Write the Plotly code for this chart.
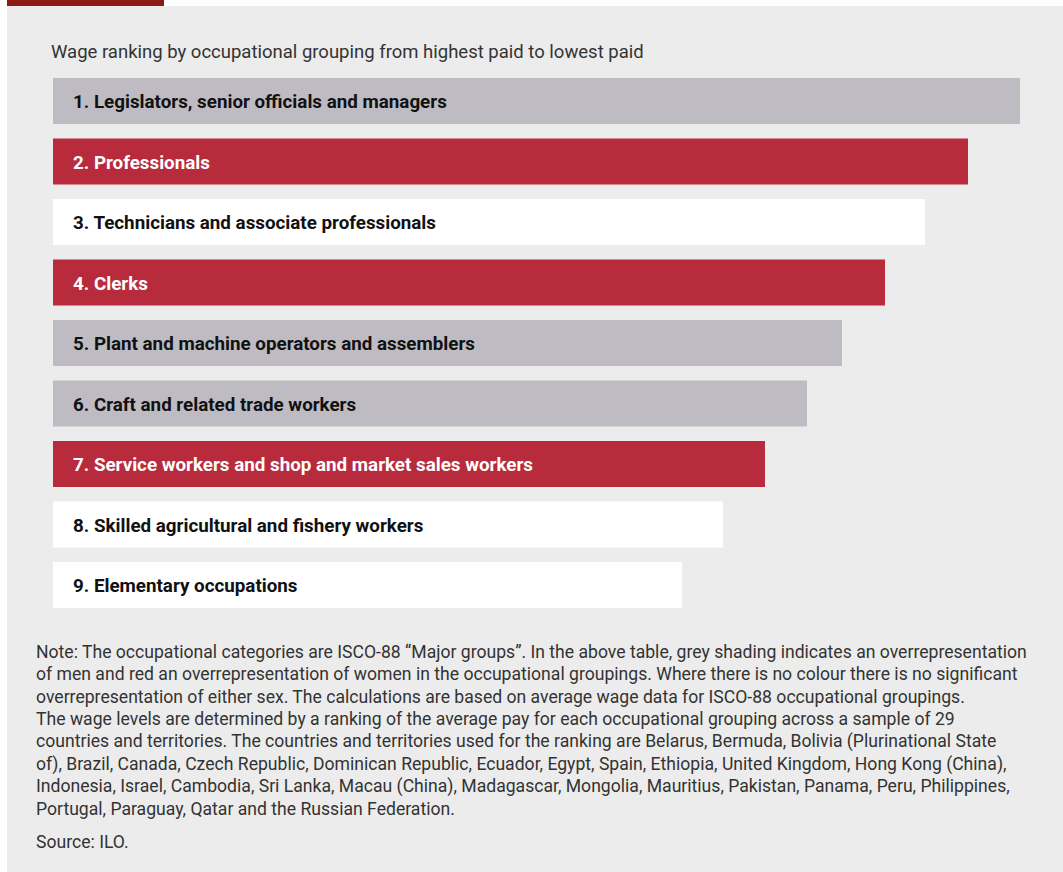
import plotly.graph_objects as go

# ---- data ----
categories = [
    "1. Legislators, senior officials and managers",
    "2. Professionals",
    "3. Technicians and associate professionals",
    "4. Clerks",
    "5. Plant and machine operators and assemblers",
    "6. Craft and related trade workers",
    "7. Service workers and shop and market sales workers",
    "8. Skilled agricultural and fishery workers",
    "9. Elementary occupations",
]
# decorative bar lengths (rank order, highest paid first)
bar_length = [967, 915, 872, 832, 789, 754, 712, 670, 629]
# overrepresentation: "men" (grey), "women" (red), "none" (white)
overrep = ["men", "women", "none", "women", "men", "men", "women", "none", "none"]

title_text = "Wage ranking by occupational grouping from highest paid to lowest paid"
note_lines = [
    "Note: The occupational categories are ISCO-88 \u201cMajor groups\u201d. In the above table, grey shading indicates an overrepresentation",
    "of men and red an overrepresentation of women in the occupational groupings. Where there is no colour there is no significant",
    "overrepresentation of either sex. The calculations are based on average wage data for ISCO-88 occupational groupings.",
    "The wage levels are determined by a ranking of the average pay for each occupational grouping across a sample of 29",
    "countries and territories. The countries and territories used for the ranking are Belarus, Bermuda, Bolivia (Plurinational State",
    "of), Brazil, Canada, Czech Republic, Dominican Republic, Ecuador, Egypt, Spain, Ethiopia, United Kingdom, Hong Kong (China),",
    "Indonesia, Israel, Cambodia, Sri Lanka, Macau (China), Madagascar, Mongolia, Mauritius, Pakistan, Panama, Peru, Philippines,",
    "Portugal, Paraguay, Qatar and the Russian Federation.",
]
source_text = "Source: ILO."

# ---- styles ----
W, H = 1063, 872
fill_map = {"men": "#bebbc2", "women": "#b72b3d", "none": "#ffffff"}
text_map = {"men": "#111111", "women": "#ffffff", "none": "#111111"}
BG = "#ececec"
FONT = "Roboto, 'Liberation Sans', Arial, sans-serif"

def px_x(p):
    return p / W

def px_y(p):
    return 1 - p / H

fig = go.Figure()
fig.add_trace(go.Bar(
    x=bar_length,
    y=categories,
    orientation="h",
    marker=dict(color=[fill_map[o] for o in overrep], line=dict(width=0)),
    hoverinfo="skip",
    showlegend=False,
))

annotations = []
for cat, o in zip(categories, overrep):
    annotations.append(dict(
        x=0, y=cat, xref="x", yref="y", xanchor="left", yanchor="middle",
        xshift=18, yshift=-1, text=cat, showarrow=False,
        font=dict(family=FONT, size=18.8, color=text_map[o], weight="bold"),
    ))

annotations.append(dict(
    x=px_x(49), y=px_y(52), xref="paper", yref="paper", xanchor="left", yanchor="middle",
    text=title_text, showarrow=False, font=dict(family=FONT, size=18.5, color="#333333"),
))

line_h = 22.45
for i, ln in enumerate(note_lines):
    annotations.append(dict(
        x=px_x(34), y=px_y(652 + i * line_h), xref="paper", yref="paper",
        xanchor="left", yanchor="middle", text=ln, showarrow=False,
        font=dict(family=FONT, size=17.6, color="#333333"),
    ))
annotations.append(dict(
    x=px_x(34), y=px_y(841.5), xref="paper", yref="paper", xanchor="left", yanchor="middle",
    text=source_text, showarrow=False, font=dict(family=FONT, size=17.6, color="#333333"),
))

shapes = [
    dict(type="rect", xref="paper", yref="paper", x0=px_x(7), x1=1, y0=0, y1=px_y(6),
         fillcolor=BG, line=dict(width=0), layer="below"),
    dict(type="rect", xref="paper", yref="paper", x0=px_x(7), x1=px_x(164), y0=px_y(6), y1=1,
         fillcolor="#8b1a14", line=dict(width=0), layer="below"),
]

top_px, bot_px = 70.75, 615.25
fig.update_layout(
    width=W, height=H,
    margin=dict(l=0, r=0, t=0, b=0),
    paper_bgcolor="#ffffff",
    plot_bgcolor="rgba(0,0,0,0)",
    bargap=0.24,
    xaxis=dict(domain=[px_x(53), 1], range=[0, 1010], visible=False, fixedrange=True),
    yaxis=dict(domain=[px_y(bot_px), px_y(top_px)], autorange="reversed",
               visible=False, fixedrange=True),
    shapes=shapes,
    annotations=annotations,
)

fig.write_html(
    "out.html",
    config={"displayModeBar": False},
    post_script="document.body.style.margin='0px';document.body.style.overflow='hidden';",
)
